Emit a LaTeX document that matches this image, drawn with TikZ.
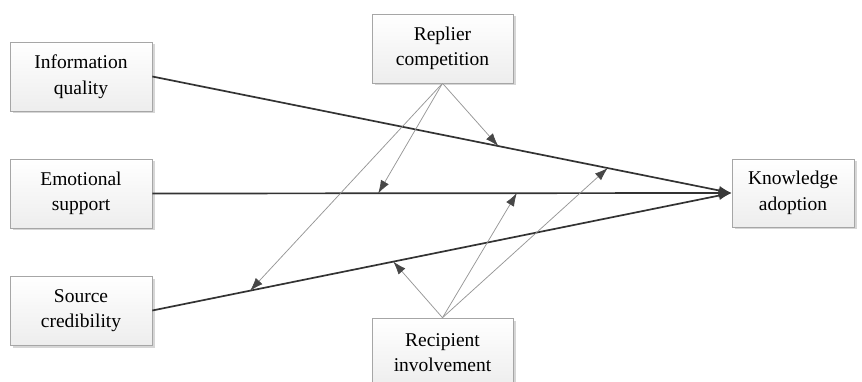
\documentclass[tikz,border=0pt]{standalone}
\usepackage{fontspec}
\setmainfont{Liberation Serif}
\usetikzlibrary{arrows.meta,shadows}
\tikzset{
  boxnode/.style={draw=gray!70, line width=0.6pt, rectangle, align=center,
    top color=white, bottom color=gray!14,
    drop shadow={shadow xshift=2.5pt, shadow yshift=-2.5pt, fill=gray!45, opacity=0.7},
    font=\fontsize{19.5}{25.5}\selectfont, inner sep=0pt},
  mainarrow/.style={draw=black!80, line width=1.7pt, -{Latex[length=13pt,width=9pt,color=black!78]}},
  modarrow/.style={draw=gray!85, line width=0.6pt, -{Latex[length=13pt,width=9pt,color=black!72]}},
  modshadow/.style={draw=gray!22, line width=0.8pt, shift={(1.3pt,-0.8pt)}},
}
\begin{document}
\begin{tikzpicture}[x=1pt,y=-1pt]
\clip (0,0) rectangle (862,382);
\fill[white] (0,0) rectangle (862,382);
\node[boxnode, minimum width=142pt, minimum height=69pt] (iq) at (81,76.5) {Information\\quality};
\node[boxnode, minimum width=142pt, minimum height=69pt] (es) at (81,193.5) {Emotional\\support};
\node[boxnode, minimum width=142pt, minimum height=69pt] (sc) at (81,310.5) {Source\\credibility};
\node[boxnode, minimum width=141pt, minimum height=69pt] (rc) at (442.5,48.5) {Replier\\competition};
\node[boxnode, minimum width=141pt, minimum height=69pt] (ri) at (442.5,352.5) {Recipient\\involvement};
\node[boxnode, minimum width=122pt, minimum height=68pt] (ka) at (793,193) {Knowledge\\adoption};
% points on main paths
\path (iq.east) -- (ka.west) coordinate[pos=0.597] (m1) coordinate[pos=0.786] (m4);
\path (es.east) -- (ka.west) coordinate[pos=0.39] (m2) coordinate[pos=0.629] (m5);
\path (sc.east) -- (ka.west) coordinate[pos=0.169] (m3) coordinate[pos=0.416] (m6);
% faint shadows of moderating lines
\draw[modshadow] (rc.south) -- (m1);
\draw[modshadow] (rc.south) -- (m2);
\draw[modshadow] (rc.south) -- (m3);
\draw[modshadow] (ri.north) -- (m4);
\draw[modshadow] (ri.north) -- (m5);
\draw[modshadow] (ri.north) -- (m6);
% main arrows
\draw[mainarrow] (iq.east) -- (ka.west);
\draw[mainarrow] (es.east) -- (ka.west);
\draw[mainarrow] (sc.east) -- (ka.west);
% moderating arrows
\draw[modarrow] (rc.south) -- (m1);
\draw[modarrow] (rc.south) -- (m2);
\draw[modarrow] (rc.south) -- (m3);
\draw[modarrow] (ri.north) -- (m4);
\draw[modarrow] (ri.north) -- (m5);
\draw[modarrow] (ri.north) -- (m6);
\end{tikzpicture}
\end{document}
